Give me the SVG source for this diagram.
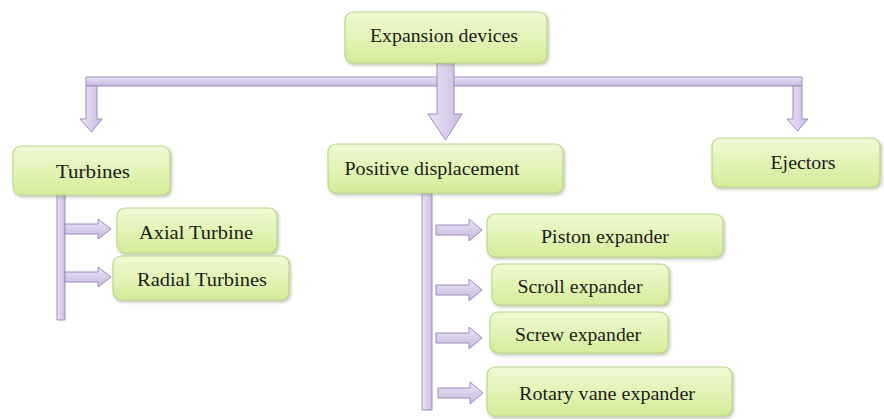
<svg xmlns="http://www.w3.org/2000/svg" width="884" height="419" viewBox="0 0 884 419">
<defs>
<linearGradient id="gBox" x1="0" y1="0" x2="0" y2="1">
<stop offset="0" stop-color="#eef9d4"/>
<stop offset="0.5" stop-color="#e2f4b6"/>
<stop offset="1" stop-color="#d3ec98"/>
</linearGradient>
<linearGradient id="gArrV" x1="0" y1="0" x2="1" y2="0">
<stop offset="0" stop-color="#ece4f6"/>
<stop offset="1" stop-color="#cbbbe2"/>
</linearGradient>
<linearGradient id="gArrH" x1="0" y1="0" x2="0" y2="1">
<stop offset="0" stop-color="#ece4f6"/>
<stop offset="1" stop-color="#c8b8e0"/>
</linearGradient>
<filter id="sh" x="-10%" y="-20%" width="125%" height="150%">
<feDropShadow dx="1.5" dy="2" stdDeviation="1.6" flood-color="#7d8a60" flood-opacity="0.45"/>
</filter>
</defs>
<style>
.box{fill:url(#gBox);stroke:#bcd88c;stroke-width:1.2;filter:url(#sh)}
.lbl{font-size:19px;fill:#1c1c1c;text-anchor:middle}
.av{fill:url(#gArrV);stroke:#9c8cbc;stroke-width:1}
.ah{fill:url(#gArrH);stroke:#9c8cbc;stroke-width:1}
</style>
<rect width="884" height="419" fill="#ffffff"/>

<g id="connectors">
<path class="ah" d="M86,77 H802 V86 H86 Z"/>
<path class="av" d="M437,63 H454 V114 H462 L445.5,140 L428,114 H437 Z"/>
<path class="av" d="M86,86 H97 V119 H102 L91.5,132 L80,119 H86 Z"/>
<path class="av" d="M793,86 H802 V119 H808 L797.5,131 L787,119 H793 Z"/>
<path class="av" d="M57,195 H65 V320 H57 Z"/>
<path class="ah" d="M65,224 H98 V219 L111,229 L98,239 V234 H65 Z"/>
<path class="ah" d="M65,272 H98 V267 L111,277 L98,287 V282 H65 Z"/>
<path class="av" d="M422,193 H432 V410 H422 Z"/>
<path class="ah" d="M436,225 H469 V219 L482,230 L469,241 V235 H436 Z"/>
<path class="ah" d="M436,285 H469 V279 L482,290 L469,301 V295 H436 Z"/>
<path class="ah" d="M436,333 H469 V327 L482,338 L469,349 V343 H436 Z"/>
<path class="ah" d="M438,388 H470 V382 L483,393 L470,404 V398 H438 Z"/>
</g>

<g id="expansion-devices" font-family="'Liberation Serif', 'DejaVu Serif', serif">
<rect class="box" x="345" y="12" width="202" height="51" rx="8"/>
<text class="lbl" x="444" y="42" textLength="148" lengthAdjust="spacingAndGlyphs">Expansion devices</text>
</g>

<g id="turbines" font-family="'Liberation Serif', 'DejaVu Serif', serif">
<rect class="box" x="13" y="146" width="157" height="49" rx="8"/>
<text class="lbl" x="93" y="178" textLength="74" lengthAdjust="spacingAndGlyphs">Turbines</text>
</g>

<g id="positive-displacement" font-family="'Liberation Serif', 'DejaVu Serif', serif">
<rect class="box" x="328" y="144" width="235" height="49" rx="8"/>
<text class="lbl" x="432" y="175" textLength="175" lengthAdjust="spacingAndGlyphs">Positive displacement</text>
</g>

<g id="ejectors" font-family="'Liberation Serif', 'DejaVu Serif', serif">
<rect class="box" x="712" y="138" width="168" height="49" rx="8"/>
<text class="lbl" x="803" y="169" textLength="65" lengthAdjust="spacingAndGlyphs">Ejectors</text>
</g>

<g id="axial-turbine" font-family="'Liberation Serif', 'DejaVu Serif', serif">
<rect class="box" x="117" y="208" width="160" height="45" rx="8"/>
<text class="lbl" x="196" y="239" textLength="114" lengthAdjust="spacingAndGlyphs">Axial Turbine</text>
</g>

<g id="radial-turbines" font-family="'Liberation Serif', 'DejaVu Serif', serif">
<rect class="box" x="113" y="256" width="176" height="44" rx="8"/>
<text class="lbl" x="202" y="286" textLength="130" lengthAdjust="spacingAndGlyphs">Radial Turbines</text>
</g>

<g id="piston-expander" font-family="'Liberation Serif', 'DejaVu Serif', serif">
<rect class="box" x="487" y="214" width="236" height="43" rx="8"/>
<text class="lbl" x="605" y="243" textLength="128" lengthAdjust="spacingAndGlyphs">Piston expander</text>
</g>

<g id="scroll-expander" font-family="'Liberation Serif', 'DejaVu Serif', serif">
<rect class="box" x="492" y="264" width="177" height="41" rx="8"/>
<text class="lbl" x="580" y="293" textLength="125" lengthAdjust="spacingAndGlyphs">Scroll expander</text>
</g>

<g id="screw-expander" font-family="'Liberation Serif', 'DejaVu Serif', serif">
<rect class="box" x="490" y="312" width="178" height="41" rx="8"/>
<text class="lbl" x="578" y="341" textLength="126" lengthAdjust="spacingAndGlyphs">Screw expander</text>
</g>

<g id="rotary-vane-expander" font-family="'Liberation Serif', 'DejaVu Serif', serif">
<rect class="box" x="487" y="367" width="245" height="49" rx="8"/>
<text class="lbl" x="607" y="400" textLength="176" lengthAdjust="spacingAndGlyphs">Rotary vane expander</text>
</g>
</svg>
